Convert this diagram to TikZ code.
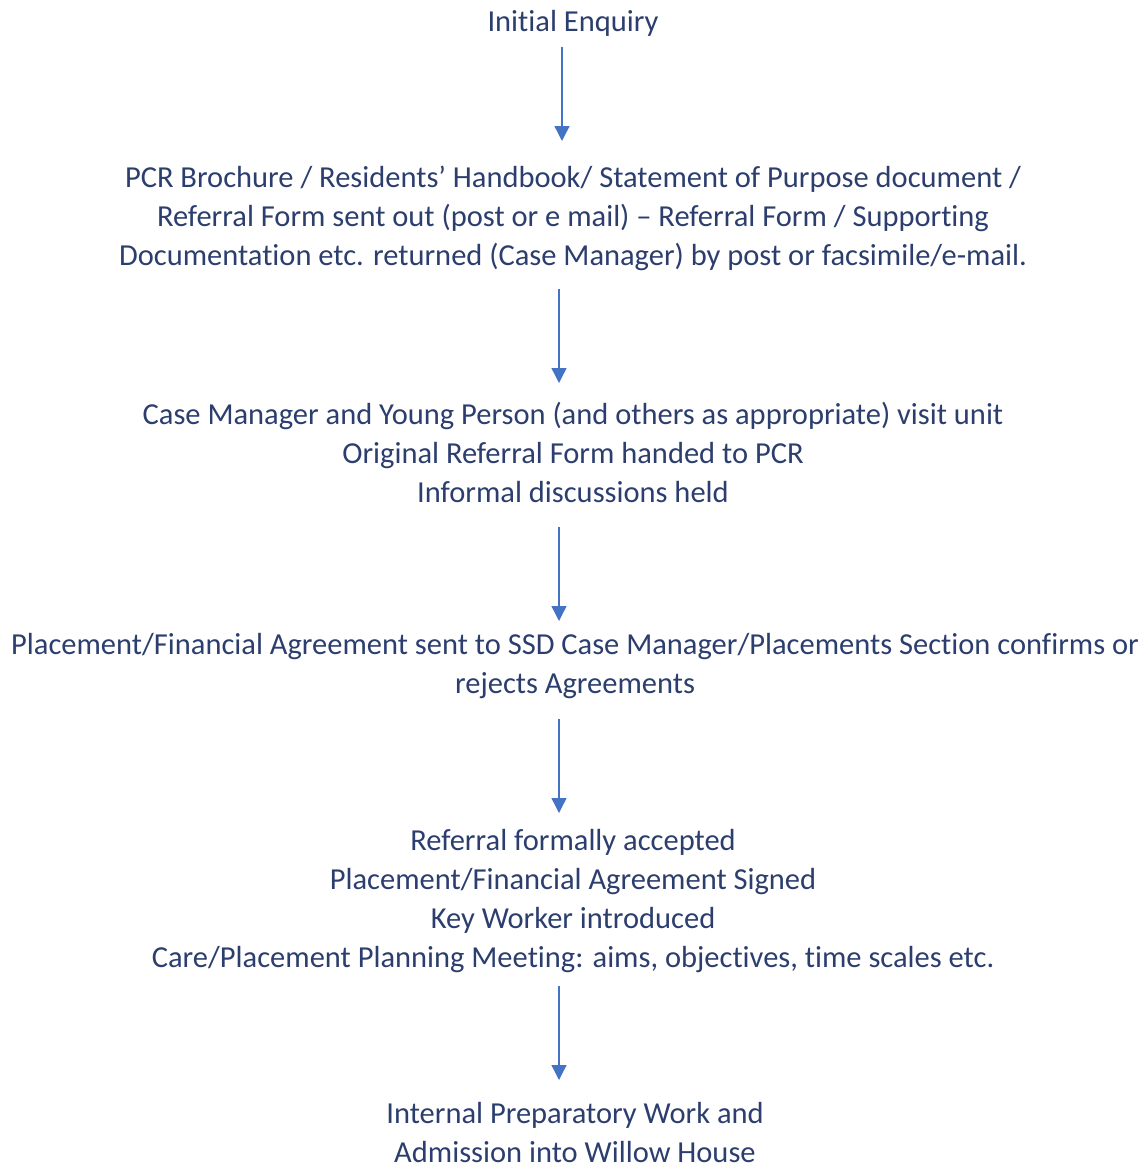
\documentclass[tikz,border=0pt]{standalone}
\usepackage{fontspec}
\setmainfont{Carlito}[Ligatures={NoCommon}]
\usepackage{xcolor}
\usetikzlibrary{arrows.meta}
\definecolor{scheme}{RGB}{68,114,196}
\definecolor{navy}{RGB}{44,62,110}

\begin{document}
\begin{tikzpicture}[x=1pt,y=-1pt,
		step text/.style={align=center,text=navy,inner sep=0pt,font=\fontsize{30.5}{39}\selectfont},
		flow/.style={color=scheme,line width=1.4pt,-{Triangle[width=15pt,length=15pt]}}]
				\useasboundingbox (0,0) rectangle (1147,1164);
				\node[step text] (s1) at (573,23) {Initial Enquiry};
				\node[step text] (s2) at (573,218) {PCR Brochure / Residents’ Handbook/ Statement of Purpose document /\\Referral Form sent out (post or e mail) – Referral Form / Supporting\\Documentation etc. returned (Case Manager) by post or facsimile/e-mail.};
				\node[step text] (s3) at (573,452) {Case Manager and Young Person (and others as appropriate) visit unit\\Original Referral Form handed to PCR\\Informal discussions held};
				\node[step text] (s4) at (575,666) {Placement/Financial Agreement sent to SSD Case Manager/Placements Section confirms or\\rejects Agreements};
				\node[step text] (s5) at (573,901) {Referral formally accepted\\Placement/Financial Agreement Signed\\Key Worker introduced\\Care/Placement Planning Meeting: aims, objectives, time scales etc.};
				\node[step text] (s6) at (575,1133) {Internal Preparatory Work and\\Admission into Willow House};
				
				\coordinate (a1) at (562,47);%from enquiry
				\coordinate (b1) at (562,141);
				\coordinate (a2) at (559,289);%from brochure
				\coordinate (b2) at (559,383);
				\coordinate (a3) at (559,527);%from visit
				\coordinate (b3) at (559,621);
				\coordinate (a4) at (559,719);%from agreement
				\coordinate (b4) at (559,813);
				\coordinate (a5) at (559,986);%from acceptance
				\coordinate (b5) at (559,1080);
				
				\draw[flow] (a1) to[] (b1);
				\draw[flow] (a2) to[] (b2);
				\draw[flow] (a3) to[] (b3);
				\draw[flow] (a4) to[] (b4);
				\draw[flow] (a5) to[] (b5);
			\end{tikzpicture}
\end{document}
